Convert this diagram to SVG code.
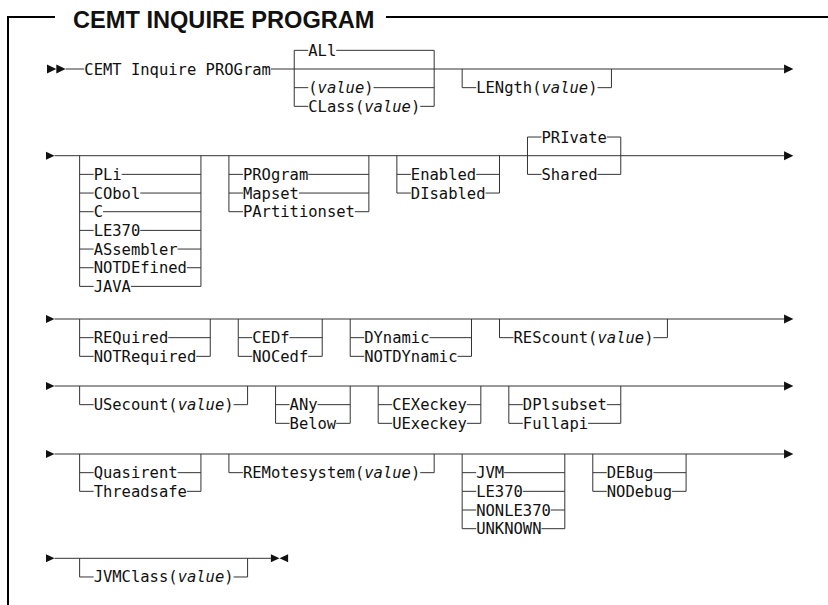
<svg xmlns="http://www.w3.org/2000/svg" width="828" height="605" viewBox="0 0 828 605">
<style>
.t{font-family:"DejaVu Sans Mono","Liberation Mono",monospace;font-size:15.5px;fill:#111}
.i{font-style:italic}
.c{stroke:#333;stroke-width:1;fill:none}
.a{fill:#111}
.f{stroke:#000;stroke-width:2;fill:none}
.title{font-family:"Liberation Sans",Arial,sans-serif;font-weight:bold;font-size:23.6px;fill:#111}
</style>
<rect width="828" height="605" fill="#fff"/>
<g id="frame">
<path class="f" d="M55,17 H8 V605 M386,17 H828"/>
<text class="title" x="73" y="27.5">CEMT INQUIRE PROGRAM</text>
</g>
<g id="connectors">
<!-- row 1 -->
<path class="c" d="M65.64,69 H84.3 M270.9,69 H784.05"/>
<path class="c" d="M294.23,50.33 V106.34 M434.18,50.33 V106.34 M294.23,50.33 H308.22 M336.21,50.33 H434.18 M294.23,87.67 H308.22 M373.53,87.67 H434.18 M294.23,106.34 H308.22 M420.18,106.34 H434.18"/>
<path class="c" d="M462.17,69 V87.67 H476.16 M597.45,87.67 H611.45 V69"/>
<polygon class="a" points="46.98,64.5 56.31,69 46.98,73.5"/>
<polygon class="a" points="56.31,64.5 65.64,69 56.31,73.5"/>
<polygon class="a" points="784.05,64.5 793.38,69 784.05,73.5"/>
<!-- row 2 -->
<path class="c" d="M54.5,155.7 H784.05"/>
<polygon class="a" points="46,151.7 54.5,155.7 46,159.7"/>
<polygon class="a" points="784.05,151.2 793.38,155.7 784.05,160.2"/>
<path class="c" d="M79.64,155.7 V286.39 M200.93,155.7 V286.39 M79.64,174.37 H93.63 M121.62,174.37 H200.93 M79.64,193.04 H93.63 M140.28,193.04 H200.93 M79.64,211.71 H93.63 M102.96,211.71 H200.93 M79.64,230.38 H93.63 M140.28,230.38 H200.93 M79.64,249.05 H93.63 M177.6,249.05 H200.93 M79.64,267.72 H93.63 M186.93,267.72 H200.93 M79.64,286.39 H93.63 M130.95,286.39 H200.93"/>
<path class="c" d="M228.92,155.7 V211.71 M368.87,155.7 V211.71 M228.92,174.37 H242.91 M308.22,174.37 H368.87 M228.92,193.04 H242.91 M298.89,193.04 H368.87 M228.92,211.71 H242.91 M354.87,211.71 H368.87"/>
<path class="c" d="M396.86,155.7 V193.04 M499.49,155.7 V193.04 M396.86,174.37 H410.85 M476.16,174.37 H499.49 M396.86,193.04 H410.85 M485.49,193.04 H499.49"/>
<path class="c" d="M527.48,137.03 V174.37 M620.78,137.03 V174.37 M527.48,137.03 H541.47 M606.78,137.03 H620.78 M527.48,174.37 H541.47 M597.45,174.37 H620.78"/>
<!-- row 3 -->
<path class="c" d="M54.5,319 H784.05"/>
<polygon class="a" points="46,315 54.5,319 46,323"/>
<polygon class="a" points="784.05,314.5 793.38,319 784.05,323.5"/>
<path class="c" d="M79.64,319 V356.34 M210.26,319 V356.34 M79.64,337.67 H93.63 M168.27,337.67 H210.26 M79.64,356.34 H93.63 M196.26,356.34 H210.26"/>
<path class="c" d="M238.25,319 V356.34 M322.22,319 V356.34 M238.25,337.67 H252.24 M289.56,337.67 H322.22 M238.25,356.34 H252.24 M308.22,356.34 H322.22"/>
<path class="c" d="M350.21,319 V356.34 M471.5,319 V356.34 M350.21,337.67 H364.2 M429.51,337.67 H471.5 M350.21,356.34 H364.2 M457.5,356.34 H471.5"/>
<path class="c" d="M499.49,319 V337.67 H513.48 M653.43,337.67 H667.43 V319"/>
<!-- row 4 -->
<path class="c" d="M54.5,386 H784.05"/>
<polygon class="a" points="46,382 54.5,386 46,390"/>
<polygon class="a" points="784.05,381.5 793.38,386 784.05,390.5"/>
<path class="c" d="M79.64,386 V404.67 H93.63 M233.58,404.67 H247.58 V386"/>
<path class="c" d="M275.57,386 V423.34 M350.21,386 V423.34 M275.57,404.67 H289.56 M317.55,404.67 H350.21 M275.57,423.34 H289.56 M336.21,423.34 H350.21"/>
<path class="c" d="M378.2,386 V423.34 M480.83,386 V423.34 M378.2,404.67 H392.19 M466.83,404.67 H480.83 M378.2,423.34 H392.19 M466.83,423.34 H480.83"/>
<path class="c" d="M508.82,386 V423.34 M620.78,386 V423.34 M508.82,404.67 H522.81 M606.78,404.67 H620.78 M508.82,423.34 H522.81 M588.12,423.34 H620.78"/>
<!-- row 5 -->
<path class="c" d="M54.5,454 H784.05"/>
<polygon class="a" points="46,450 54.5,454 46,458"/>
<polygon class="a" points="784.05,449.5 793.38,454 784.05,458.5"/>
<path class="c" d="M79.64,454 V491.34 M200.93,454 V491.34 M79.64,472.67 H93.63 M177.6,472.67 H200.93 M79.64,491.34 H93.63 M186.93,491.34 H200.93"/>
<path class="c" d="M228.92,454 V472.67 H242.91 M420.18,472.67 H434.18 V454"/>
<path class="c" d="M462.17,454 V528.68 M564.8,454 V528.68 M462.17,472.67 H476.16 M504.15,472.67 H564.8 M462.17,491.34 H476.16 M522.81,491.34 H564.8 M462.17,510.01 H476.16 M550.8,510.01 H564.8 M462.17,528.68 H476.16 M541.47,528.68 H564.8"/>
<path class="c" d="M592.79,454 V491.34 M686.09,454 V491.34 M592.79,472.67 H606.78 M653.43,472.67 H686.09 M592.79,491.34 H606.78 M672.09,491.34 H686.09"/>
<!-- row 6 -->
<path class="c" d="M54.5,558.3 H270.9"/>
<polygon class="a" points="46,554.3 54.5,558.3 46,562.3"/>
<path class="c" d="M79.64,558.3 V576.97 H93.63 M233.58,576.97 H247.58 V558.3"/>
<polygon class="a" points="270.9,554.3 279.5,558.3 270.9,562.3"/>
<polygon class="a" points="288.1,554.3 279.5,558.3 288.1,562.3"/>
</g>
<g id="cmd"><text class="t" x="84.3" y="74.5">CEMT Inquire PROGram</text></g>
<g id="opt-all"><text class="t" x="308.22" y="55.83">ALl</text></g>
<g id="opt-value"><text class="t" x="308.22" y="93.17">(<tspan class="i">value</tspan>)</text></g>
<g id="opt-class"><text class="t" x="308.22" y="111.84">CLass(<tspan class="i">value</tspan>)</text></g>
<g id="opt-length"><text class="t" x="476.16" y="93.17">LENgth(<tspan class="i">value</tspan>)</text></g>
<g id="opt-pli"><text class="t" x="93.63" y="179.87">PLi</text></g>
<g id="opt-cobol"><text class="t" x="93.63" y="198.54">CObol</text></g>
<g id="opt-c"><text class="t" x="93.63" y="217.21">C</text></g>
<g id="opt-le370"><text class="t" x="93.63" y="235.88">LE370</text></g>
<g id="opt-assembler"><text class="t" x="93.63" y="254.55">ASsembler</text></g>
<g id="opt-notdefined"><text class="t" x="93.63" y="273.22">NOTDEfined</text></g>
<g id="opt-java"><text class="t" x="93.63" y="291.89">JAVA</text></g>
<g id="opt-program"><text class="t" x="242.91" y="179.87">PROgram</text></g>
<g id="opt-mapset"><text class="t" x="242.91" y="198.54">Mapset</text></g>
<g id="opt-partitionset"><text class="t" x="242.91" y="217.21">PArtitionset</text></g>
<g id="opt-enabled"><text class="t" x="410.85" y="179.87">Enabled</text></g>
<g id="opt-disabled"><text class="t" x="410.85" y="198.54">DIsabled</text></g>
<g id="opt-private"><text class="t" x="541.47" y="142.53">PRIvate</text></g>
<g id="opt-shared"><text class="t" x="541.47" y="179.87">Shared</text></g>
<g id="opt-required"><text class="t" x="93.63" y="343.17">REQuired</text></g>
<g id="opt-notrequired"><text class="t" x="93.63" y="361.84">NOTRequired</text></g>
<g id="opt-cedf"><text class="t" x="252.24" y="343.17">CEDf</text></g>
<g id="opt-nocedf"><text class="t" x="252.24" y="361.84">NOCedf</text></g>
<g id="opt-dynamic"><text class="t" x="364.2" y="343.17">DYnamic</text></g>
<g id="opt-notdynamic"><text class="t" x="364.2" y="361.84">NOTDYnamic</text></g>
<g id="opt-rescount"><text class="t" x="513.48" y="343.17">REScount(<tspan class="i">value</tspan>)</text></g>
<g id="opt-usecount"><text class="t" x="93.63" y="410.17">USecount(<tspan class="i">value</tspan>)</text></g>
<g id="opt-any"><text class="t" x="289.56" y="410.17">ANy</text></g>
<g id="opt-below"><text class="t" x="289.56" y="428.84">Below</text></g>
<g id="opt-cexeckey"><text class="t" x="392.19" y="410.17">CEXeckey</text></g>
<g id="opt-uexeckey"><text class="t" x="392.19" y="428.84">UExeckey</text></g>
<g id="opt-dplsubset"><text class="t" x="522.81" y="410.17">DPlsubset</text></g>
<g id="opt-fullapi"><text class="t" x="522.81" y="428.84">Fullapi</text></g>
<g id="opt-quasirent"><text class="t" x="93.63" y="478.17">Quasirent</text></g>
<g id="opt-threadsafe"><text class="t" x="93.63" y="496.84">Threadsafe</text></g>
<g id="opt-remotesystem"><text class="t" x="242.91" y="478.17">REMotesystem(<tspan class="i">value</tspan>)</text></g>
<g id="opt-jvm"><text class="t" x="476.16" y="478.17">JVM</text></g>
<g id="opt-le370b"><text class="t" x="476.16" y="496.84">LE370</text></g>
<g id="opt-nonle370"><text class="t" x="476.16" y="515.51">NONLE370</text></g>
<g id="opt-unknown"><text class="t" x="476.16" y="534.18">UNKNOWN</text></g>
<g id="opt-debug"><text class="t" x="606.78" y="478.17">DEBug</text></g>
<g id="opt-nodebug"><text class="t" x="606.78" y="496.84">NODebug</text></g>
<g id="opt-jvmclass"><text class="t" x="93.63" y="582.47">JVMClass(<tspan class="i">value</tspan>)</text></g>
</svg>
